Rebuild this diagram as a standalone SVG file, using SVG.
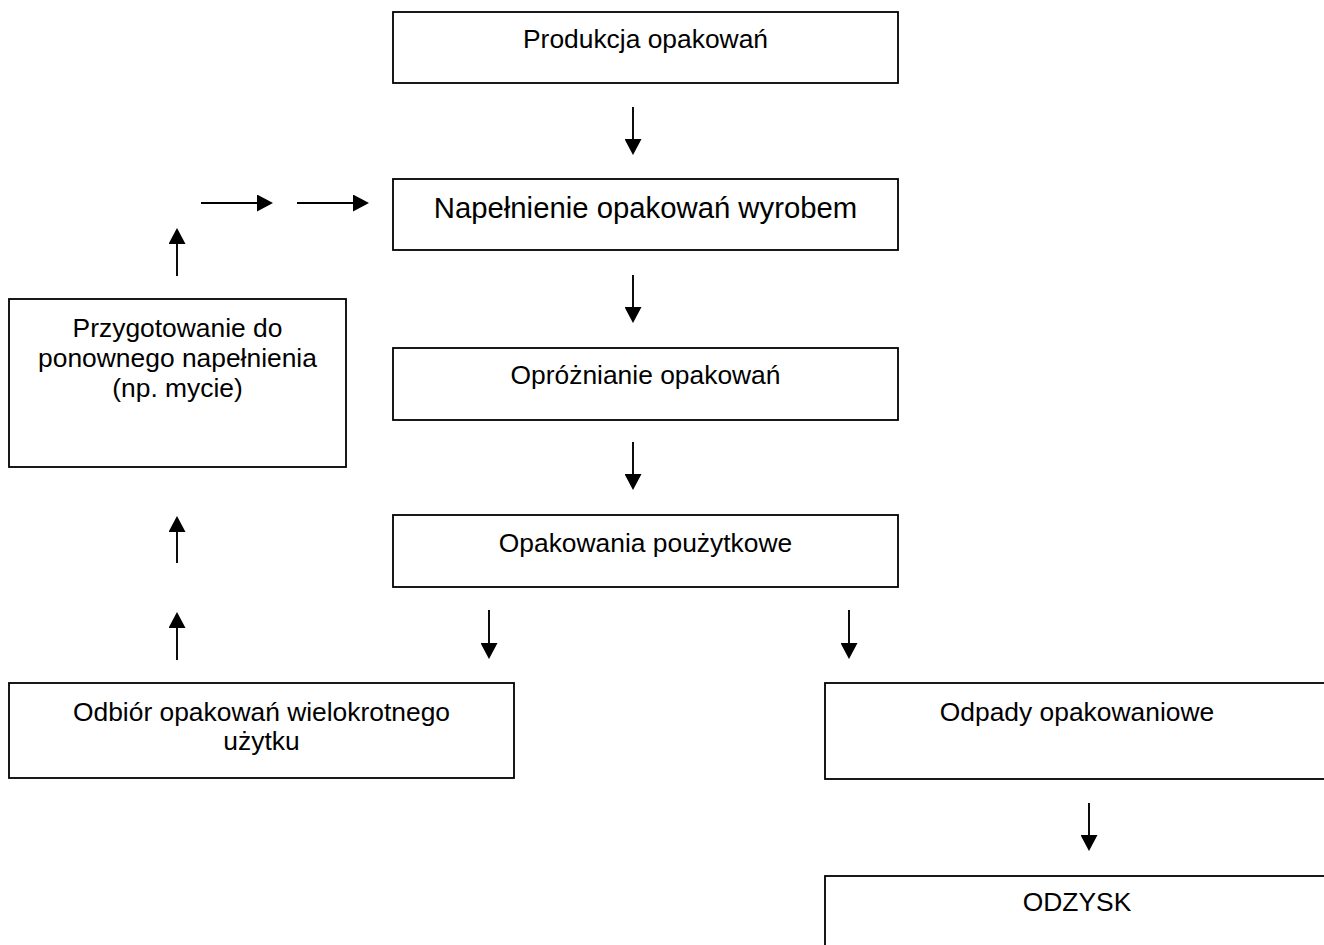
<svg xmlns="http://www.w3.org/2000/svg" width="1324" height="945" viewBox="0 0 1324 945">
<style>
.box{fill:#fff;stroke:#000;stroke-width:1.8}
.t{font-family:"Liberation Sans",Arial,sans-serif;font-size:26.4px;fill:#000;text-anchor:middle}
.big{font-size:29.3px}
.c{stroke:#000;stroke-width:1.9;fill:none;marker-end:url(#ah)}
</style>
<defs>
<marker id="ah" markerUnits="userSpaceOnUse" markerWidth="16" markerHeight="17" refX="2" refY="8.5" orient="auto" viewBox="0 0 16 17">
<path d="M0,0 L16,8.5 L0,17 z" fill="#000"/>
</marker>
</defs>
<rect width="1324" height="945" fill="#fff"/>
<g id="n-produkcja"><rect class="box" x="393" y="12" width="505" height="71"/><text class="t" x="645.5" y="48">Produkcja opakowań</text></g>
<g id="n-napelnienie"><rect class="box" x="393" y="179" width="505" height="71"/><text class="t big" x="645.5" y="218">Napełnienie opakowań wyrobem</text></g>
<g id="n-oprozn"><rect class="box" x="393" y="348" width="505" height="72"/><text class="t" x="645.5" y="384">Opróżnianie opakowań</text></g>
<g id="n-pouzyt"><rect class="box" x="393" y="515" width="505" height="72"/><text class="t" x="645.5" y="552">Opakowania poużytkowe</text></g>
<g id="n-przygot"><rect class="box" x="9" y="299" width="337" height="168"/><text class="t" x="177.5" y="337">Przygotowanie do</text><text class="t" x="177.5" y="367">ponownego napełnienia</text><text class="t" x="177.5" y="397">(np. mycie)</text></g>
<g id="n-odbior"><rect class="box" x="9" y="683" width="505" height="95"/><text class="t" x="261.5" y="721">Odbiór opakowań wielokrotnego</text><text class="t" x="261.5" y="750">użytku</text></g>
<g id="n-odpady"><rect class="box" x="825" y="683" width="505" height="96"/><text class="t" x="1077" y="721">Odpady opakowaniowe</text></g>
<g id="n-odzysk"><rect class="box" x="825" y="876" width="505" height="100"/><text class="t" x="1077" y="911">ODZYSK</text></g>
<g id="connectors">
<line class="c" x1="633" y1="107" x2="633" y2="141"/>
<line class="c" x1="633" y1="275" x2="633" y2="309"/>
<line class="c" x1="633" y1="442" x2="633" y2="476"/>
<line class="c" x1="489" y1="610" x2="489" y2="645"/>
<line class="c" x1="849" y1="610" x2="849" y2="645"/>
<line class="c" x1="1089" y1="803" x2="1089" y2="837"/>
<line class="c" x1="177" y1="660" x2="177" y2="626"/>
<line class="c" x1="177" y1="563" x2="177" y2="530"/>
<line class="c" x1="177" y1="276" x2="177" y2="242"/>
<line class="c" x1="201" y1="203" x2="259" y2="203"/>
<line class="c" x1="297" y1="203" x2="355" y2="203"/>
</g>
</svg>
